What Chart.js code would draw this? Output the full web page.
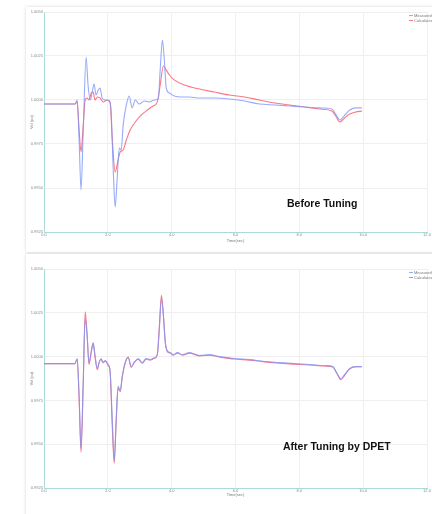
<!DOCTYPE html>
<html>
<head>
<meta charset="utf-8">
<script src="https://cdn.jsdelivr.net/npm/chart.js@4/dist/chart.umd.min.js"></script>
<style>
  html, body { margin: 0; padding: 0; background: #fff; }
  body { width: 432px; height: 514px; position: relative; overflow: hidden; font-family: "Liberation Sans", Arial, sans-serif; }
  .card { position: absolute; left: 26px; width: 420px; background: #fff; box-shadow: 0 0 3px rgba(0,0,0,0.18); }
  canvas { position: absolute; left: 0; }
  .note { position: absolute; font-weight: bold; font-size: 10.5px; color: #111; white-space: nowrap; line-height: 12px; }
</style>
</head>
<body>
<div class="card" style="top:7px;height:245px"></div>
<div class="card" style="top:254px;height:270px"></div>
<canvas id="before" width="432" height="257" style="top:0"></canvas>
<canvas id="after" width="432" height="257" style="top:257px"></canvas>
<div class="note" style="left:287px;top:197px">Before Tuning</div>
<div class="note" style="left:283px;top:440px">After Tuning by DPET</div>
<script>
// Axis ticks
const timeTicks = [0, 2, 4, 6, 8, 10, 12];
const voltTicks = [0.9925, 0.995, 0.9975, 1.0, 1.0025, 1.005];
const seriesNames = ['Measured', 'Calculated'];

// Before tuning: measured response
const measTimeA = [0, 0.97, 1.04, 1.10, 1.16, 1.23, 1.32, 1.38, 1.45, 1.51,
  1.57, 1.63, 1.70, 1.76, 1.82, 1.92, 2.04, 2.10, 2.17, 2.23,
  2.29, 2.36, 2.42, 2.48, 2.58, 2.67, 2.76, 2.86, 2.98, 3.14,
  3.30, 3.46, 3.58, 3.64, 3.71, 3.77, 3.83, 3.93, 4.08, 4.30,
  4.56, 4.87, 5.34, 5.81, 6.28, 6.75, 7.23, 7.70, 8.17, 8.64,
  9.02, 9.14, 9.27, 9.40, 9.58, 9.77, 9.96];
const measValA = [0.99977, 0.99977, 1.0, 0.99773, 0.99489, 0.9983, 1.00244, 1.00085, 1.0, 1.00045,
  1.00091, 1.00028, 1.00057, 1.00068, 1.00011, 1.0, 0.99994, 0.99943, 0.99602, 0.99392,
  0.99545, 0.99727, 0.99716, 0.99858, 0.99972, 1.00023, 0.99955, 1.0, 0.99977, 0.99994,
  0.99989, 1.0, 1.00006, 1.0017, 1.00341, 1.00227, 1.00068, 1.0004, 1.00023, 1.00017,
  1.00017, 1.00011, 1.00011, 1.00006, 0.99994, 0.99977, 0.99972, 0.99966, 0.9996, 0.99955,
  0.99949, 0.9992, 0.99886, 0.99909, 0.99943, 0.99955, 0.99955];

// Before tuning: calculated response
const calcTimeA = [0, 0.97, 1.04, 1.10, 1.16, 1.23, 1.29, 1.35, 1.41, 1.48,
  1.54, 1.60, 1.67, 1.76, 1.85, 1.98, 2.07, 2.14, 2.23, 2.32,
  2.39, 2.48, 2.58, 2.70, 2.86, 3.05, 3.24, 3.42, 3.55, 3.64,
  3.74, 3.83, 3.93, 4.08, 4.40, 4.87, 5.34, 5.81, 6.28, 6.75,
  7.23, 7.70, 8.17, 8.64, 9.02, 9.14, 9.27, 9.42, 9.58, 9.77, 9.96];
const calcValA = [0.99977, 0.99977, 0.99989, 0.9983, 0.99705, 0.99858, 1.0, 1.00011, 1.0, 1.0004,
  1.00045, 1.0, 1.00017, 1.00011, 0.99989, 1.0, 0.99989, 0.99773, 0.99591, 0.99659,
  0.99705, 0.99716, 0.99773, 0.9983, 0.99875, 0.99915, 0.99943, 0.99966, 0.99989, 1.00085,
  1.00193, 1.0017, 1.00142, 1.00114, 1.00085, 1.00062, 1.00045, 1.00028, 1.00017, 1.0,
  0.99983, 0.99972, 0.9996, 0.99949, 0.99937, 0.99909, 0.99875, 0.99898, 0.9992, 0.99932, 0.99937];

// After tuning: shared time base
const timeB = [0, 0.97, 1.04, 1.10, 1.16, 1.23, 1.29, 1.35, 1.41, 1.48,
  1.54, 1.60, 1.67, 1.73, 1.79, 1.85, 1.92, 2.01, 2.07, 2.14,
  2.20, 2.26, 2.32, 2.39, 2.45, 2.54, 2.64, 2.73, 2.83, 2.95,
  3.08, 3.20, 3.33, 3.46, 3.55, 3.61, 3.68, 3.74, 3.80, 3.86,
  3.96, 4.05, 4.18, 4.34, 4.56, 4.87, 5.18, 5.50, 5.97, 6.44,
  6.91, 7.38, 7.85, 8.33, 8.80, 9.05, 9.17, 9.30, 9.42, 9.58, 9.77, 9.96];
const measValB = [0.9996, 0.9996, 0.99989, 0.99778, 0.99477, 0.99864, 1.00216, 1.0012, 0.99966, 1.00023,
  1.0008, 1.00006, 0.99932, 0.99966, 0.99989, 0.99966, 0.99977, 0.99955, 0.9992, 0.99636,
  0.99409, 0.99636, 0.9983, 0.99807, 0.99886, 0.99966, 0.99994, 0.99943, 0.99966, 0.99989,
  0.99966, 0.99989, 0.99983, 0.99994, 1.00011, 1.00148, 1.0033, 1.00233, 1.0008, 1.00034,
  1.00023, 1.00011, 1.00023, 1.00011, 1.00023, 1.00006, 1.00011, 1.0, 0.99989, 0.99983,
  0.99972, 0.99966, 0.9996, 0.99955, 0.99949, 0.99943, 0.99909, 0.99875, 0.99898, 0.99932, 0.99943, 0.99943];
const calcValB = [0.9996, 0.9996, 0.99986, 0.9976, 0.99455, 0.9985, 1.00256, 1.0013, 0.99955, 1.0003,
  1.00075, 0.99995, 0.99925, 0.9997, 0.99985, 0.99965, 0.99975, 0.9995, 0.99915, 0.996,
  0.99392, 0.9962, 0.9982, 0.998, 0.9988, 0.9996, 0.99998, 0.99938, 0.99968, 0.99985,
  0.99962, 0.99985, 0.9998, 0.9999, 1.0001, 1.0016, 1.0035, 1.0024, 1.00085, 1.0003,
  1.0002, 1.00008, 1.0002, 1.00008, 1.0002, 1.00004, 1.00008, 0.99998, 0.99986, 0.9998,
  0.9997, 0.99962, 0.99957, 0.99952, 0.99946, 0.9994, 0.99905, 0.99868, 0.99893, 0.9993, 0.99942, 0.99942];

const BLUE = 'rgba(125, 150, 250, 0.8)';
const RED = 'rgba(250, 85, 100, 0.8)';

function pairs(ts, vs) { return ts.map((t, i) => ({ x: t, y: vs[i] })); }

// Small stacked legend in the top-right corner of the plot area
const cornerLegend = {
  id: 'cornerLegend',
  afterDraw(chart) {
    const ctx = chart.ctx, area = chart.chartArea;
    ctx.save();
    ctx.font = '4px "Liberation Sans", Arial, sans-serif';
    ctx.textBaseline = 'middle';
    chart.data.datasets.forEach((ds, i) => {
      const y = area.top + 3.5 + i * 5;
      const x0 = area.right - 18;
      ctx.strokeStyle = ds.borderColor;
      ctx.lineWidth = 1;
      ctx.beginPath(); ctx.moveTo(x0, y); ctx.lineTo(x0 + 4, y); ctx.stroke();
      ctx.fillStyle = '#777';
      ctx.fillText(ds.label, x0 + 5, y);
    });
    ctx.restore();
  }
};

function makeChart(id, measT, measV, calcT, calcV, padBottom, xHeight) {
  const tickFont = { size: 4, family: '"Liberation Sans", Arial, sans-serif' };
  return new Chart(document.getElementById(id), {
    type: 'line',
    data: {
      datasets: [
        { label: seriesNames[0], data: pairs(measT, measV), borderColor: BLUE, borderWidth: 1.1,
          pointRadius: 0, cubicInterpolationMode: 'monotone', fill: false },
        { label: seriesNames[1], data: pairs(calcT, calcV), borderColor: RED, borderWidth: 1.1,
          pointRadius: 0, cubicInterpolationMode: 'monotone', fill: false }
      ]
    },
    options: {
      responsive: false,
      devicePixelRatio: 1,
      animation: false,
      events: [],
      layout: { padding: { top: 12, right: 5, left: 27, bottom: padBottom } },
      plugins: { legend: { display: false }, tooltip: { enabled: false } },
      scales: {
        x: {
          type: 'linear', min: timeTicks[0], max: timeTicks[timeTicks.length - 1],
          afterBuildTicks: s => { s.ticks = timeTicks.map(v => ({ value: v })); },
          afterFit: s => { s.height = xHeight; },
          ticks: { font: tickFont, color: '#888', padding: 0, maxRotation: 0,
                   callback: v => Number(v).toFixed(1) },
          grid: { color: '#efefef', drawTicks: false },
          border: { color: '#a9dcd4', width: 1 },
          title: { display: true, text: 'Time(sec)', font: tickFont, color: '#777', padding: 0 }
        },
        y: {
          type: 'linear', min: voltTicks[0], max: voltTicks[voltTicks.length - 1],
          afterBuildTicks: s => { s.ticks = voltTicks.map(v => ({ value: v })); },
          afterFit: s => { s.width = 17; },
          ticks: { font: tickFont, color: '#888', padding: 1,
                   callback: v => Number(v).toFixed(4) },
          grid: { color: '#efefef', drawTicks: false },
          border: { color: '#a9dcd4', width: 1 },
          title: { display: true, text: 'Vol (pu)', font: tickFont, color: '#777', padding: { top: 2, bottom: 0 } }
        }
      }
    },
    plugins: [cornerLegend]
  });
}

makeChart('before', measTimeA, measValA, calcTimeA, calcValA, 14, 11);
makeChart('after', timeB, measValB, timeB, calcValB, 17, 9);
</script>
</body>
</html>
